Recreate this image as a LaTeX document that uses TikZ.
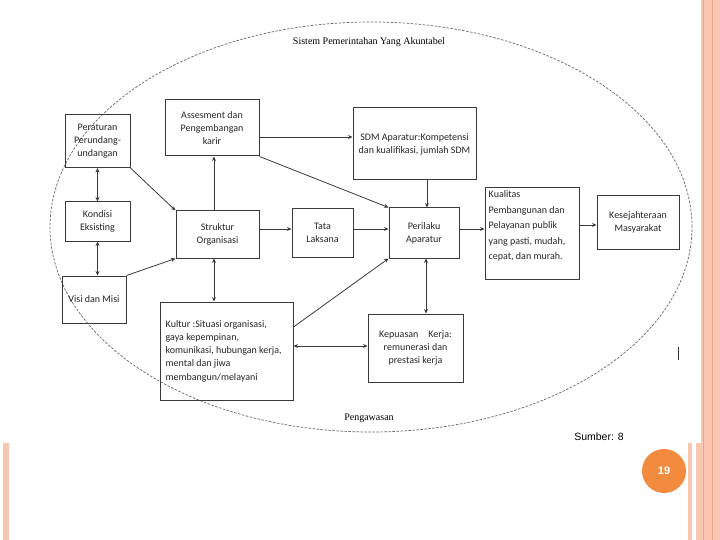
\documentclass[tikz,border=0pt]{standalone}
\usepackage{fontspec}
\setmainfont{Carlito}
\newfontfamily\serifft{Liberation Serif}
\newfontfamily\arialft{Liberation Sans}
\usetikzlibrary{arrows.meta}
\definecolor{peach}{HTML}{F9C6B2}
\definecolor{peachdark}{HTML}{EFA384}
\definecolor{orangec}{HTML}{F38B3F}
\definecolor{boxline}{HTML}{3A3A3A}
\tikzset{
  box/.style={draw=boxline, line width=1pt, inner sep=2pt, font=\fontsize{10}{13}\selectfont, align=center, text=black!85},
  boxtext/.style={inner sep=0pt, font=\fontsize{10}{13.2}\selectfont, text=black!85},
  conn/.style={draw=boxline, line width=0.8pt, -{Stealth[length=4.5pt,width=4pt]}},
  dconn/.style={draw=boxline, line width=0.8pt, {Stealth[length=4.5pt,width=4pt]}-{Stealth[length=4.5pt,width=4pt]}},
}
\begin{document}
\begin{tikzpicture}[x=1pt,y=-1pt]
\useasboundingbox (0,0) rectangle (720,540);
\fill[white] (0,0) rectangle (720,540);
% decorations
\fill[peach] (701,0) rectangle (720,540);
\draw[peachdark, line width=0.7pt] (703,0) -- (703,540);
\draw[peachdark, line width=0.5pt] (712,0) -- (712,540);
\fill[peach] (688,443) rectangle (692,540);
\fill[peach] (696,443) rectangle (701,540);
\fill[peach] (3,443) rectangle (9,540);
% ellipse
\draw[gray!80!black, dashed, dash pattern=on 2.5pt off 1.5pt, line width=0.7pt] (371,227) ellipse [x radius=321pt, y radius=205pt];
\node[font=\serifft\fontsize{10}{12}\selectfont] (title) at (369,42) {Sistem Pemerintahan Yang Akuntabel};
\node[font=\serifft\fontsize{10}{12}\selectfont] (peng) at (369,418) {Pengawasan};
% boxes
\node[box, minimum width=65pt, minimum height=53pt] (perat) at (97.5,141) {Peraturan\\Perundang-\\undangan};
\node[box, minimum width=65pt, minimum height=39pt] (kond) at (97.5,221.5) {Kondisi\\Eksisting};
\node[box, minimum width=64pt, minimum height=47pt] (visi) at (94,299.5) {Visi dan Misi};
\node[box, minimum width=94pt, minimum height=56pt] (asses) at (212,128) {Assesment dan\\Pengembangan\\karir};
\node[box, minimum width=83pt, minimum height=47pt] (strukt) at (217.5,234.5) {Struktur\\Organisasi};
\node[box, minimum width=61pt, minimum height=48pt] (tata) at (322.5,233) {Tata\\Laksana};
\node[box, minimum width=123pt, minimum height=72pt] (sdm) at (414.5,144) {SDM Aparatur:Kompetensi\\dan kualifikasi, jumlah SDM};
\node[box, minimum width=70pt, minimum height=50pt] (peril) at (424,233) {Perilaku\\Aparatur};
\node[box, minimum width=94pt, minimum height=91pt] (kual) at (532,233.5) {};
\node[boxtext, anchor=north west, align=left, font=\fontsize{10}{15.5}\selectfont] (kualtext) at ([xshift=4pt,yshift=-3pt]kual.north west) {Kualitas\\Pembangunan dan\\Pelayanan publik\\yang pasti, mudah,\\cepat, dan murah.};
\node[box, minimum width=82pt, minimum height=53pt] (kesej) at (638,222.5) {Kesejahteraan\\Masyarakat};
\node[box, minimum width=133pt, minimum height=98pt] (kult) at (226.5,351) {};
\node[boxtext, anchor=west, align=left] (kulttext) at ([xshift=6pt]kult.west) {Kultur :Situasi organisasi,\\gaya kepempinan,\\komunikasi, hubungan kerja,\\mental dan jiwa\\membangun/melayani};
\node[box, minimum width=95pt, minimum height=68pt] (kepu) at (415.5,348) {Kepuasan\quad Kerja:\\remunerasi dan\\prestasi kerja};
% connectors
\draw[dconn] (perat.south) -- (kond.north);
\draw[dconn] (kond.south) -- (kond.south |- visi.north);
\draw[conn] (perat.south east) -- (strukt.north west);
\draw[conn] (visi.north east) -- (strukt.south west);
\draw[conn] ([xshift=-3.5pt]strukt.north) -- ([xshift=-3.5pt]strukt.north |- asses.south);
\draw[dconn] ([xshift=-3.5pt]strukt.south) -- ([xshift=-3.5pt]strukt.south |- kult.north);
\draw[conn] ([yshift=-9pt]asses.east) -- ([yshift=-9pt]asses.east -| sdm.west);
\draw[conn] (asses.south east) -- (peril.north west);
\draw[conn] ([yshift=5.5pt]strukt.east) -- ([yshift=5.5pt]strukt.east -| tata.west);
\draw[conn] ([yshift=4pt]tata.east) -- ([yshift=4pt]tata.east -| peril.west);
\draw[conn] ([xshift=3pt]peril.north |- sdm.south) -- ([xshift=3pt]peril.north);
\draw[conn] ([yshift=24pt]kult.east) -- (peril.south west);
\draw[dconn] ([xshift=2pt]peril.south) -- ([xshift=2pt]peril.south |- kepu.north);
\draw[dconn] ([yshift=5pt]kult.east) -- ([yshift=5pt]kult.east -| kepu.west);
\draw[conn] ([yshift=4pt]peril.east) -- ([yshift=4pt]peril.east -| kual.west);
\draw[conn] ([yshift=8.5pt]kual.east) -- ([yshift=8.5pt]kual.east -| kesej.west);
% misc
\draw[black!80, line width=0.8pt] (678,347) -- (678,360);
\node[font=\arialft\fontsize{10.5}{12}\selectfont] (sumber) at (599,437) {Sumber: 8};
\node[circle, fill=orangec, minimum size=44pt, inner sep=0pt, text=white, font=\arialft\bfseries\fontsize{11}{12}\selectfont] (page) at (664,471) {19};
\end{tikzpicture}
\end{document}
